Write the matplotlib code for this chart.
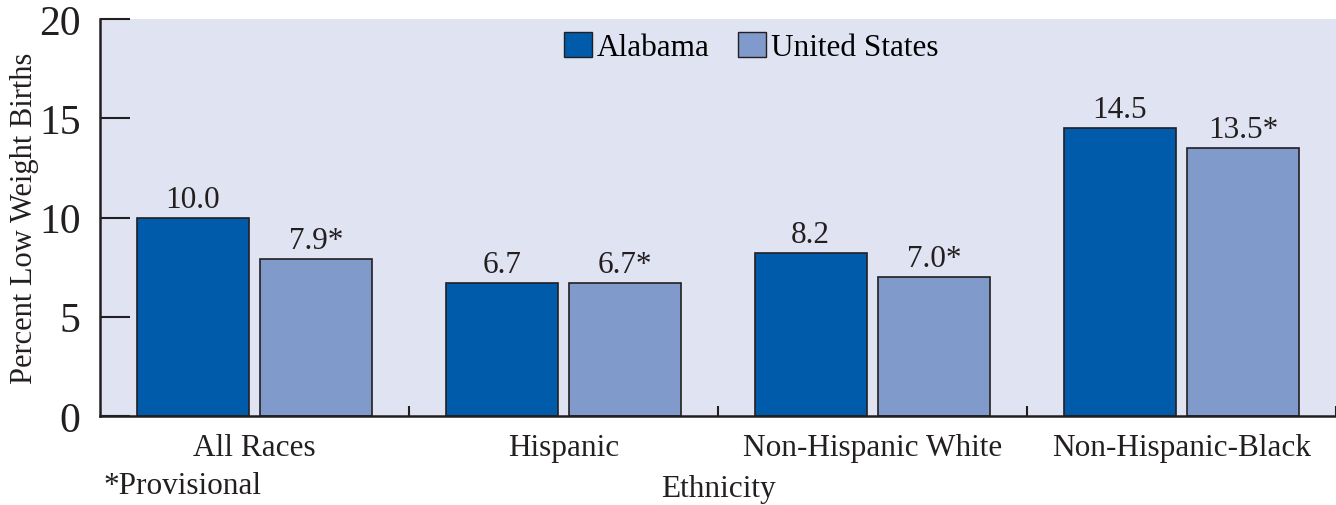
import numpy as np
import matplotlib
matplotlib.use("Agg")
import matplotlib.pyplot as plt
from matplotlib.patches import Patch

categories = ["All Races", "Hispanic", "Non-Hispanic White", "Non-Hispanic-Black"]
alabama = [10.0, 6.7, 8.2, 14.5]
united_states = [7.9, 6.7, 7.0, 13.5]
alabama_labels = ["10.0", "6.7", "8.2", "14.5"]
us_labels = ["7.9*", "6.7*", "7.0*", "13.5*"]

plt.rcParams["font.family"] = ["Liberation Serif", "DejaVu Serif"]
text_color = "#231f20"

fig = plt.figure(figsize=(13.36, 5.06), dpi=100)
ax = fig.add_axes([100 / 1336, 1 - 417 / 506, 1 - 100 / 1336, 397 / 506])
ax.set_facecolor("#e0e3f2")

x = np.arange(len(categories))
w = 0.362
off = 0.2
b1 = ax.bar(x - off, alabama, w, color="#005baa", edgecolor="#231f20", linewidth=1.2)
b2 = ax.bar(x + off, united_states, w, color="#7f9acb", edgecolor="#231f20", linewidth=1.2)

for rect, lab in zip(b1, alabama_labels):
    ax.text(rect.get_x() + rect.get_width() / 2, rect.get_height() + 0.2, lab,
            ha="center", va="bottom", fontsize=22.5, color=text_color)
for rect, lab in zip(b2, us_labels):
    ax.text(rect.get_x() + rect.get_width() / 2, rect.get_height() + 0.2, lab,
            ha="center", va="bottom", fontsize=22.5, color=text_color)

ax.set_xlim(-0.5, 3.5)
ax.set_ylim(0, 20)
ax.set_yticks([0, 5, 10, 15, 20])
ax.tick_params(axis="y", direction="in", length=21.6, width=1.5, labelsize=30,
               colors=text_color, pad=14)
ax.set_xticks(x)
ax.set_xticklabels(categories)
ax.tick_params(axis="x", length=0, labelsize=22.5, colors=text_color, pad=12)
ax.set_xticks([0.5, 1.5, 2.5, 3.5], minor=True)
ax.tick_params(axis="x", which="minor", direction="in", length=7.2, width=1.5,
               colors=text_color)

for s in ["top", "right"]:
    ax.spines[s].set_visible(False)
for s in ["left", "bottom"]:
    ax.spines[s].set_linewidth(1.8)
    ax.spines[s].set_color(text_color)

ax.set_ylabel("Percent Low Weight Births", fontsize=22, color=text_color, labelpad=0)
fig.text(718 / 1336, 1 - 490 / 506, "Ethnicity", ha="center", va="center",
         fontsize=22.5, color=text_color)
fig.text(103 / 1336, 1 - 487 / 506, "*Provisional", ha="left", va="center",
         fontsize=22.5, color=text_color)

handles = [Patch(facecolor="#005baa", edgecolor="#231f20"),
           Patch(facecolor="#7f9acb", edgecolor="#231f20")]
ax.legend(handles, ["Alabama", "United States"], loc="upper center",
          bbox_to_anchor=(0.527, 1.0), ncol=2, frameon=False, fontsize=22.5,
          handlelength=0.9, handleheight=0.9, handletextpad=0.15,
          columnspacing=0.9, borderaxespad=0.0)

fig.savefig("out.png", dpi=100)
